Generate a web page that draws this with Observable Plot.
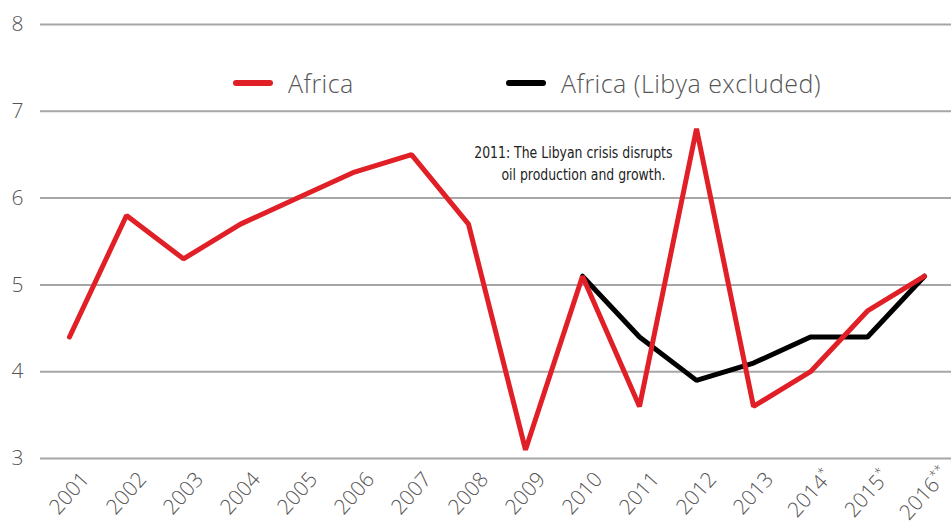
<!DOCTYPE html>
<html><head><meta charset="utf-8">
<script src="https://cdn.jsdelivr.net/npm/d3@7"></script>
<script src="https://cdn.jsdelivr.net/npm/@observablehq/plot@0.6"></script>
<style>
body{margin:0;background:#fff;}
#wrap{position:relative;width:951px;height:523px;font-family:"Open Sans",Lato,sans-serif;}
.lg{position:absolute;top:69px;display:flex;align-items:center;font-size:25px;letter-spacing:0.45px;color:#555;font-weight:300;line-height:28px;z-index:1;}
.sw{display:inline-block;width:40px;height:5.5px;border-radius:3px;margin-right:15px;}
</style></head><body>
<div id="wrap">
<div class="lg" style="left:233px"><span class="sw" style="background:#e01f27"></span>Africa</div>
<div class="lg" style="left:506px"><span class="sw" style="background:#000"></span>Africa (Libya excluded)</div>
</div>
<script>
const years = ["2001","2002","2003","2004","2005","2006","2007","2008","2009","2010","2011","2012","2013","2014","2015","2016"];
const yearLabels = ["2001","2002","2003","2004","2005","2006","2007","2008","2009","2010","2011","2012","2013","2014*","2015*","2016**"];
const africa = [4.4,5.8,5.3,5.7,6.0,6.3,6.5,5.7,3.1,5.1,3.6,6.8,3.6,4.0,4.7,5.1];
const exYears = ["2010","2011","2012","2013","2014","2015","2016"];
const africaExLibya = [5.1,4.4,3.9,4.1,4.4,4.4,5.1];
const yTicks = [3,4,5,6,7,8];
const note = "2011: The Libyan crisis disrupts\noil production and growth.";

const red = years.map((y,i)=>({year:y, v:africa[i]}));
const blk = exYears.map((y,i)=>({year:y, v:africaExLibya[i]}));
const labelOf = Object.fromEntries(years.map((y,i)=>[y, yearLabels[i]]));

const chart = Plot.plot({
  width:951, height:523,
  marginLeft:40, marginRight:0, marginTop:24, marginBottom:64,
  style:{fontFamily:"'Open Sans', Lato, sans-serif", background:"#fff"},
  x:{type:"point", domain:years, range:[67,926], padding:0},
  y:{domain:[3,8], range:[458,24]},
  marks:[
    Plot.ruleY(yTicks, {stroke:"#a6a6a6", strokeWidth:2}),
    Plot.axisY({ticks:yTicks, tickFormat:d=>String(d), tickSize:0, tickPadding:17, fontSize:21, fill:"#555", fontWeight:300, label:null}),
    Plot.axisX({tickSize:0, tickRotate:-48, tickPadding:0, dy:34, textAnchor:"middle", lineAnchor:"middle", fontSize:21, fill:"#555", fontWeight:300, label:null, tickFormat:d=>labelOf[d]}),
    Plot.line(blk, {x:"year", y:"v", stroke:"#000", strokeWidth:5, strokeLinejoin:"miter", strokeLinecap:"round"}),
    Plot.line(red, {x:"year", y:"v", stroke:"#e01f27", strokeWidth:5, strokeLinejoin:"miter", strokeLinecap:"round"}),
    Plot.text([note], {x:()=>"2012", y:()=>6.42, text:d=>d, textAnchor:"end", dx:-24, fontSize:16.5, lineHeight:1.35, fill:"#222", fontFamily:"'DejaVu Sans Condensed', 'Liberation Sans Narrow', sans-serif"})
  ]
});
// superscript asterisks in tick labels
d3.select(chart).selectAll("text").each(function(){
  if (this.childNodes.length===1 && this.firstChild.nodeType===3) {
    const m = this.textContent.match(/^(\d{4})(\*+)$/);
    if (m) {
      d3.select(this).text(m[1]);
      d3.select(this).append("tspan").attr("font-size","13px").attr("dy","-0.6em").text(m[2]);
    }
  }
});
chart.style.position="absolute"; chart.style.left="0"; chart.style.top="0";
document.getElementById("wrap").appendChild(chart);
// condense the annotation (narrow typeface in the reference); second line sits a little left
d3.select(chart).selectAll("g[fill='#222'] tspan").each(function(d, i){
  const w = this.getComputedTextLength();
  this.setAttribute("textLength", (w*0.84).toFixed(1));
  this.setAttribute("lengthAdjust", "spacingAndGlyphs");
  if (i === 1) this.setAttribute("dx", "-7");
});
</script>
</body></html>
